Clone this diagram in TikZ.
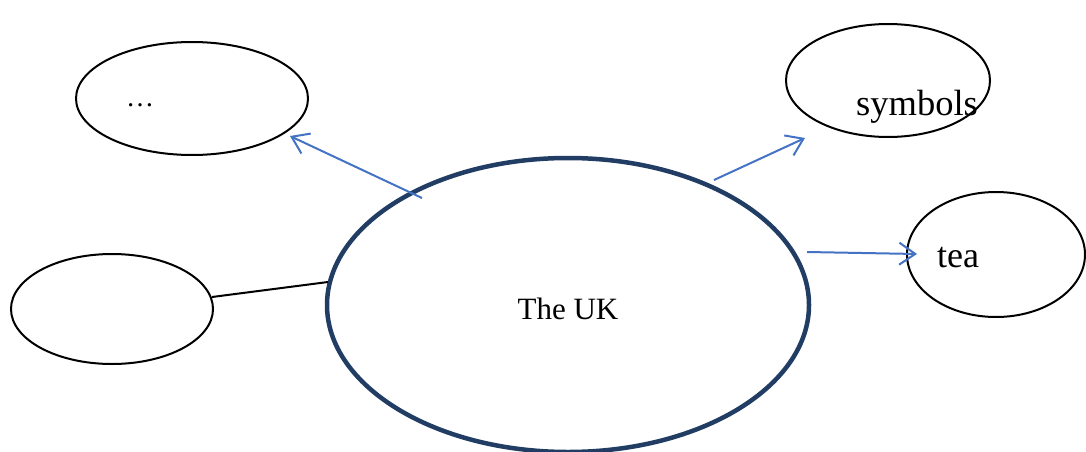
\documentclass[tikz,border=0pt]{standalone}
\usepackage{fontspec}
\setmainfont{Liberation Serif}
\usetikzlibrary{shapes.geometric,arrows.meta}
\definecolor{navy}{HTML}{213D64}
\definecolor{arrowblue}{HTML}{4472C4}
\tikzset{
  bubble/.style={ellipse, draw=black, line width=2pt, inner sep=0pt, outer sep=0pt},
  mainbubble/.style={ellipse, draw=navy, line width=4.5pt, inner sep=0pt, outer sep=0pt},
  blueline/.style={draw=arrowblue, line width=2pt, -{Straight Barb[length=16pt,width=22pt,line width=2pt]}},
  blackline/.style={draw=black, line width=2pt},
  lbl/.style={inner sep=0pt, anchor=base}
}
\begin{document}
\begin{tikzpicture}[x=1pt,y=-1pt]
\useasboundingbox (0,0) rectangle (1086,452);
\fill[white] (0,0) rectangle (1086,452);
\node[mainbubble, minimum width=482pt, minimum height=294pt] (uk) at (568,305) {};
\node[bubble, minimum width=232pt, minimum height=113pt] (tl) at (192,98.5) {};
\node[bubble, minimum width=204pt, minimum height=113pt] (tr) at (888,80.5) {};
\node[bubble, minimum width=178pt, minimum height=125pt] (rt) at (996,254.5) {};
\node[bubble, minimum width=202pt, minimum height=110pt] (lf) at (112,309) {};
\node[lbl, font=\fontsize{31}{36}\selectfont] (uktext) at (568,319) {The UK};
\node[lbl, font=\fontsize{28}{32}\selectfont] (dots) at (140,106) {…};
\node[lbl, font=\fontsize{36.5}{40}\selectfont] (sym) at (917,115) {symbols};
\node[lbl, font=\fontsize{36}{40}\selectfont] (tea) at (958,267) {tea};
\coordinate (a1s) at (422,198);
\coordinate (a1e) at (290,136);
\coordinate (a2s) at (714,180);
\coordinate (a2e) at (805,138);
\coordinate (a3s) at (807,252);
\coordinate (a3e) at (917,254);
\coordinate (l1s) at (212,297);
\coordinate (l1e) at (328,282);
\draw[blueline] (a1s) -- (a1e);
\draw[blueline] (a2s) -- (a2e);
\draw[blueline] (a3s) -- (a3e);
\draw[blackline] (l1s) -- (l1e);
\end{tikzpicture}
\end{document}
